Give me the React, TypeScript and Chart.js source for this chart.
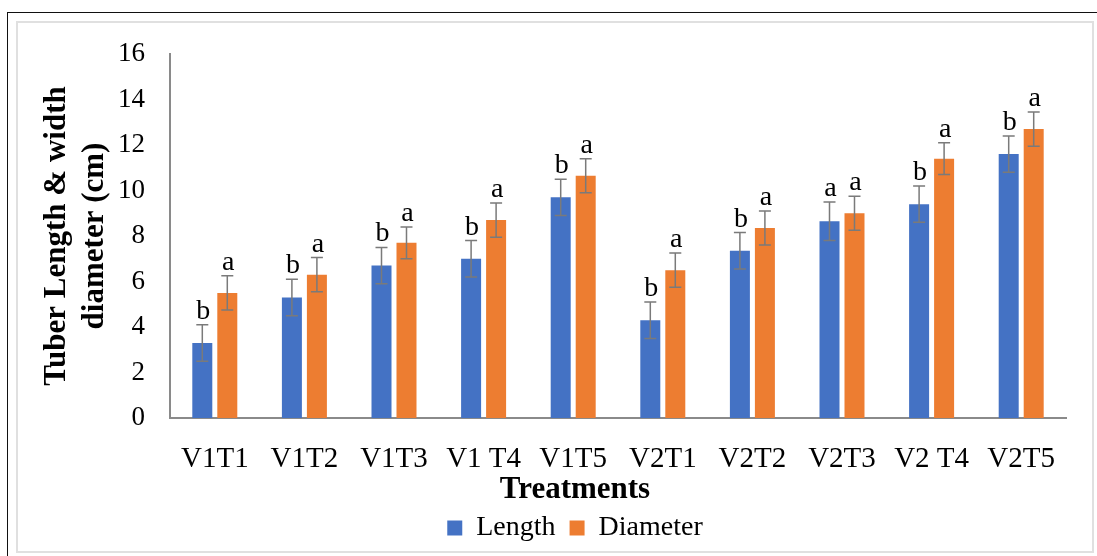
import React, { useEffect, useRef } from "react";
import { Chart, registerables } from "chart.js";

Chart.register(...registerables);

const categories = ["V1T1", "V1T2", "V1T3", "V1 T4", "V1T5", "V2T1", "V2T2", "V2T3", "V2 T4", "V2T5"];
const seriesNames = ["Length", "Diameter"];
const lengthValues = [3.3, 5.3, 6.7, 7.0, 9.7, 4.3, 7.35, 8.65, 9.4, 11.6];
const diameterValues = [5.5, 6.3, 7.7, 8.7, 10.65, 6.5, 8.35, 9.0, 11.4, 12.7];
const lengthErrors = [0.8, 0.8, 0.8, 0.8, 0.8, 0.8, 0.8, 0.85, 0.8, 0.8];
const diameterErrors = [0.75, 0.75, 0.7, 0.75, 0.75, 0.75, 0.75, 0.75, 0.7, 0.75];
const lengthLetters = ["b", "b", "b", "b", "b", "b", "b", "a", "b", "b"];
const diameterLetters = ["a", "a", "a", "a", "a", "a", "a", "a", "a", "a"];
const yMin = 0;
const yMax = 16;
const yStep = 2;
const xTitle = "Treatments";
const yTitle = ["Tuber Length & width", "diameter (cm)"];

const errorsBySeries = [lengthErrors, diameterErrors];
const lettersBySeries = [lengthLetters, diameterLetters];

const FONT = "'Liberation Serif', 'Times New Roman', serif";

const errorBarPlugin = {
  id: "errorBars",
  afterDatasetsDraw(chart: any) {
    const { ctx } = chart;
    const yScale = chart.scales.y;
    chart.data.datasets.forEach((ds: any, di: number) => {
      const meta = chart.getDatasetMeta(di);
      const errs = errorsBySeries[di];
      const letters = lettersBySeries[di];
      meta.data.forEach((bar: any, i: number) => {
        const v = ds.data[i] as number;
        const e = errs[i];
        const x = bar.x;
        const yTop = yScale.getPixelForValue(v + e);
        const yBot = yScale.getPixelForValue(v - e);
        ctx.save();
        ctx.strokeStyle = "#7a7a7a";
        ctx.lineWidth = 1.5;
        ctx.beginPath();
        ctx.moveTo(x, yTop);
        ctx.lineTo(x, yBot);
        ctx.moveTo(x - 6, yTop);
        ctx.lineTo(x + 6, yTop);
        ctx.moveTo(x - 6, yBot);
        ctx.lineTo(x + 6, yBot);
        ctx.stroke();
        ctx.fillStyle = "#000";
        ctx.font = `28px ${FONT}`;
        ctx.textAlign = "center";
        ctx.textBaseline = "alphabetic";
        ctx.fillText(letters[i], x + 1, yTop - 6);
        ctx.restore();
      });
    });
  },
};

export default function App() {
  const canvasRef = useRef<HTMLCanvasElement | null>(null);

  useEffect(() => {
    if (!canvasRef.current) return;
    Chart.defaults.font.family = FONT;
    Chart.defaults.color = "#000";
    const chart = new Chart(canvasRef.current, {
      type: "bar",
      data: {
        labels: categories,
        datasets: [
          {
            label: seriesNames[0],
            data: lengthValues,
            backgroundColor: "#4472C4",
            borderWidth: 0,
            barPercentage: 0.8,
            categoryPercentage: 0.558,
          },
          {
            label: seriesNames[1],
            data: diameterValues,
            backgroundColor: "#ED7D31",
            borderWidth: 0,
            barPercentage: 0.8,
            categoryPercentage: 0.558,
          },
        ],
      },
      options: {
        animation: false,
        responsive: false,
        devicePixelRatio: 1,
        font: { family: FONT },
        layout: { padding: { left: 20, right: 0, top: 54, bottom: 4 } },
        plugins: {
          tooltip: { enabled: false },
          legend: {
            display: true,
            position: "bottom",
            labels: {
              boxWidth: 15,
              boxHeight: 15,
              padding: 14,
              color: "#000",
              font: { size: 28, family: "Liberation Serif" },
            },
          },
          title: {
            display: true,
            text: xTitle,
            position: "bottom",
            weight: 500,
            color: "#000",
            padding: 0,
            font: { size: 31, weight: "bold", family: FONT, lineHeight: 20 / 31 },
          },
        },
        scales: {
          x: {
            grid: { display: false, drawTicks: false },
            border: { display: true, color: "#8a8a8a", width: 2 },
            ticks: {
              padding: 24,
              color: "#000",
              font: { size: 29, family: FONT },
              maxRotation: 0,
              autoSkip: false,
            },
            afterFit: (s: any) => {
              s.height = 62;
            },
          },
          y: {
            min: yMin,
            max: yMax,
            grid: { display: false, drawTicks: false },
            border: { display: true, color: "#8a8a8a", width: 2 },
            ticks: {
              stepSize: yStep,
              padding: 25,
              color: "#000",
              font: { size: 27, family: FONT },
            },
            title: {
              display: true,
              text: yTitle,
              color: "#000",
              font: { size: 31, weight: "bold", family: FONT, lineHeight: 38 / 31 },
              padding: { top: 18, bottom: 0 },
            },
            afterFit: (s: any) => {
              s.width = 150;
            },
          },
          y2: {
            position: "right",
            display: true,
            grid: { display: false, drawTicks: false },
            border: { display: false },
            ticks: { display: false },
            afterFit: (s: any) => {
              s.width = 64;
            },
          },
        },
      },
      plugins: [errorBarPlugin],
    } as any);
    return () => chart.destroy();
  }, []);

  return (
    <div
      style={{
        position: "fixed",
        left: 0,
        top: 0,
        width: 1097,
        height: 556,
        overflow: "hidden",
        background: "#fff",
      }}
    >
      <div style={{ position: "absolute", left: 7, top: 12, width: 1090, height: 1, background: "#111" }} />
      <div style={{ position: "absolute", left: 7, top: 12, width: 1, height: 544, background: "#111" }} />
      <div
        style={{
          position: "absolute",
          left: 16,
          top: 21,
          width: 1078,
          height: 532,
          boxSizing: "border-box",
          border: "2px solid #e0e0e0",
        }}
      />
      <canvas
        ref={canvasRef}
        width={1130}
        height={556}
        style={{ position: "absolute", left: 0, top: 0, width: 1130, height: 556 }}
      />
    </div>
  );
}
